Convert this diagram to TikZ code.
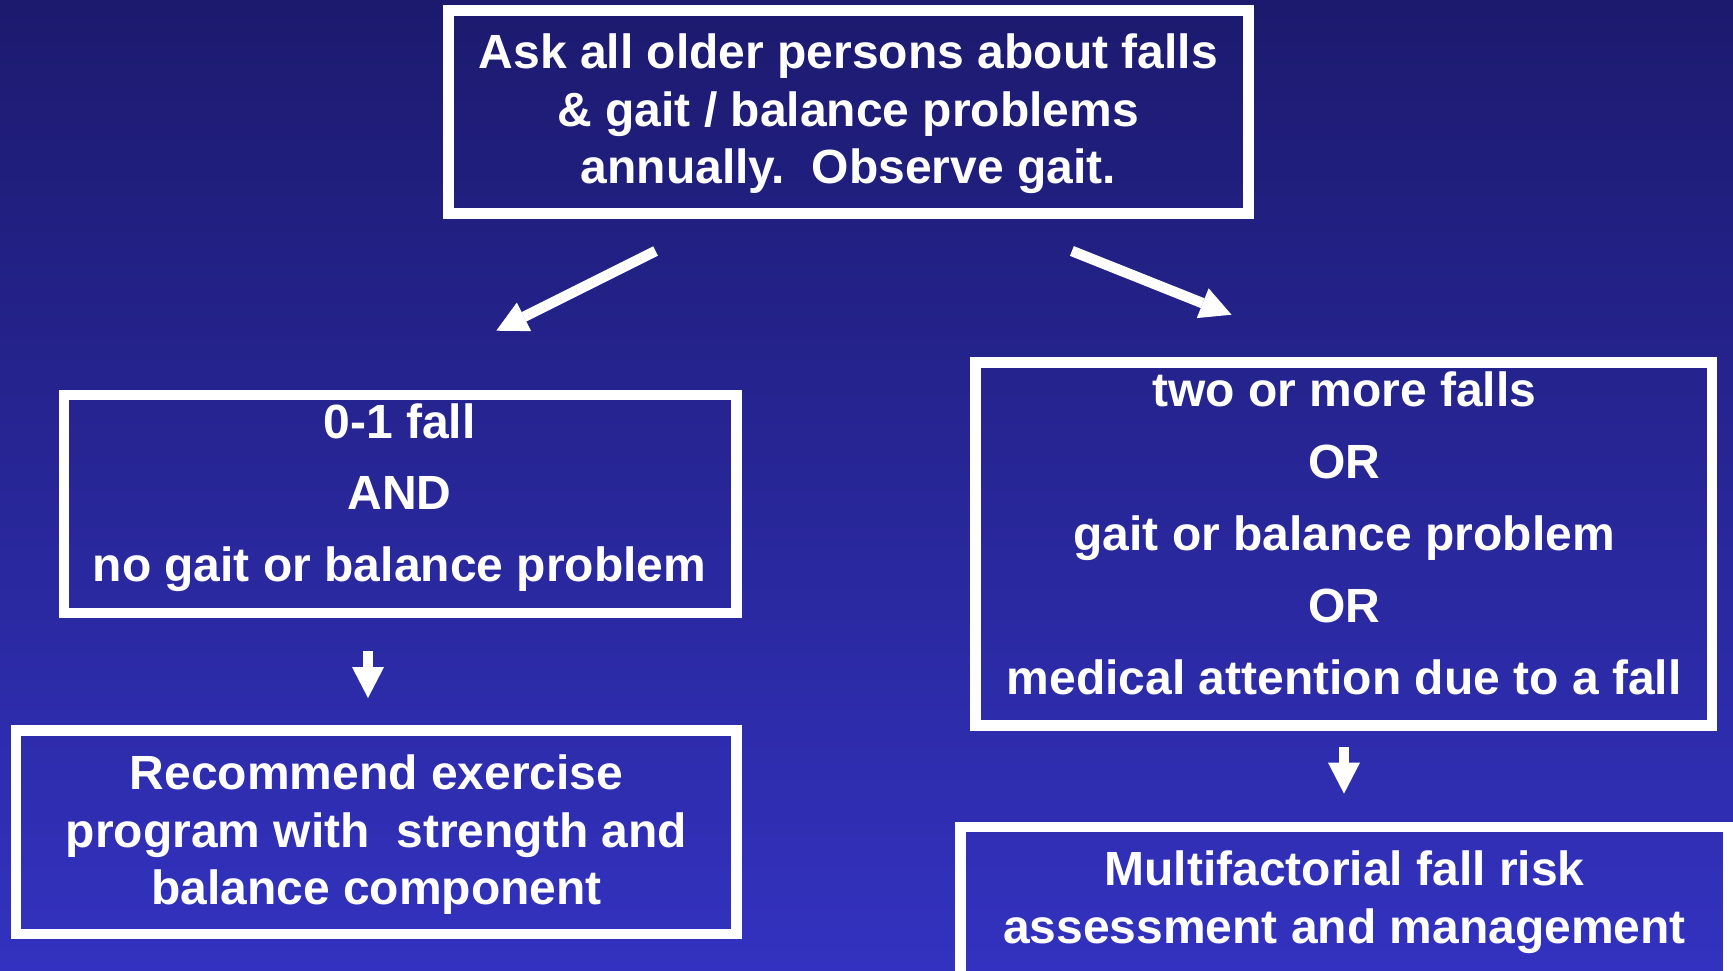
\documentclass[tikz,border=0pt]{standalone}
\usepackage{fontspec}
\setmainfont{Liberation Sans}
\usetikzlibrary{arrows.meta}
\definecolor{bgtop}{RGB}{28,26,110}
\definecolor{bgbot}{RGB}{51,50,192}
\tikzset{
  box/.style={draw=white, line width=10.5pt, rectangle, inner sep=0pt, fill=none},
  txt/.style={anchor=base, inner sep=0pt, text=white},
  flow/.style={draw=white, line width=10.5pt,
    -{Triangle[length=31pt,width=32pt,line width=0pt]}}
}
\newcommand{\mylines}[2]{\fontsize{48}{#1}\selectfont\bfseries\frenchspacing\begin{tabular}[t]{@{}c@{}}#2\end{tabular}}
\begin{document}
\begin{tikzpicture}[x=1pt,y=-1pt]
\useasboundingbox (0,0) rectangle (1733,970);
\clip (0,0) rectangle (1733,970);
\shade[top color=bgtop, bottom color=bgbot] (0,0) rectangle (1733,970);

% boxes
\node[box, minimum width=800pt, minimum height=202.8pt] (top) at (848.5,112.1) {};
\node[box, minimum width=672.1pt, minimum height=217.8pt] (few) at (400.25,504) {};
\node[box, minimum width=720.1pt, minimum height=203.4pt] (exer) at (376.25,832.3) {};
\node[box, minimum width=736.5pt, minimum height=363.2pt] (many) at (1343.95,544.1) {};
\node[box, minimum width=767.5pt, minimum height=173pt] (multi) at (1344.25,913.5) {};

% texts
\node[txt] (topT) at (848.3,68.7) {\mylines{57.5pt}{Ask all older persons about falls\\ \& gait / balance problems\\ annually.~ Observe gait.}};
\node[txt] (fewT) at (399.4,438.4) {\mylines{71.5pt}{0-1 fall\\ AND\\ no gait or balance problem}};
\node[txt] (exerT) at (376.5,789.5) {\mylines{57.7pt}{Recommend exercise\\ program with~ strength and\\ balance component}};
\node[txt] (manyT) at (1344.2,406.2) {\mylines{72pt}{two or more falls\\ OR\\ gait or balance problem\\ OR\\ medical attention due to a fall}};
\node[txt] (multiT) at (1344.5,885.8) {\mylines{57.3pt}{Multifactorial fall risk\\ assessment and management}};

% arrow ends
\coordinate (lt) at (655.5,251);
\coordinate (lh) at (496.3,330.7);
\coordinate (rt) at (1071.9,251);
\coordinate (rh) at (1231.5,314.7);
\coordinate (dlt) at (368,651);
\coordinate (dlh) at (368,698);
\coordinate (drt) at (1344,747.4);
\coordinate (drh) at (1344,793.6);

\draw[flow] (lt) -- (lh);
\draw[flow] (rt) -- (rh);
\draw[flow] (dlt) -- (dlh);
\draw[flow] (drt) -- (drh);
\end{tikzpicture}
\end{document}
